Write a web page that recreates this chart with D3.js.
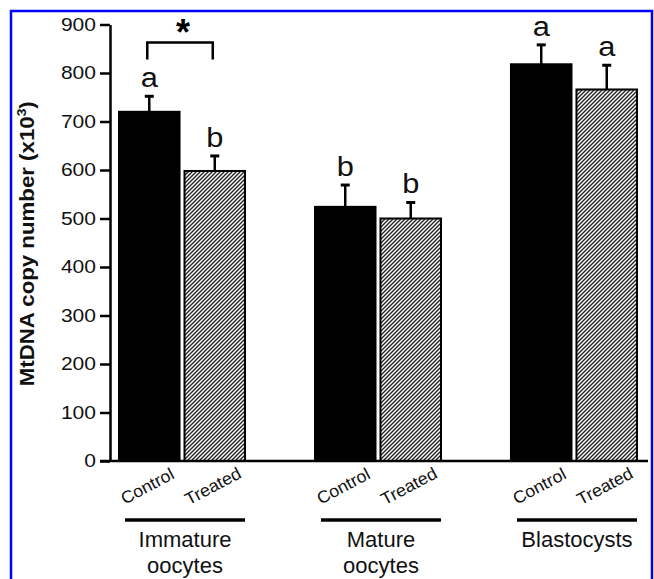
<!DOCTYPE html>
<html>
<head>
    <meta charset="utf-8">
    <title>MtDNA copy number</title>
    <script src="https://d3js.org/d3.v7.min.js"></script>
    <style>
        body { margin: 0; background: #fff; }
        text { font-family: "Liberation Sans", Arial, sans-serif; }
    </style>
</head>
<body>
<div id="chart"></div>
<script>

    // dados
    const groups = ["Immature oocytes", "Mature oocytes", "Blastocysts"];
    const groupLines = [["Immature", "oocytes"], ["Mature", "oocytes"], ["Blastocysts"]];
    const treatments = ["Control", "Treated"];
    const controlMean = [720, 524, 818];
    const controlSem = [32, 45, 40];
    const treatedMean = [598, 500, 766];
    const treatedSem = [31, 33, 50];
    const controlLetters = ["a", "b", "a"];
    const treatedLetters = ["b", "b", "a"];
    const yTicks = [0, 100, 200, 300, 400, 500, 600, 700, 800, 900];
    // colchete de significancia (grupo Immature), em unidades do eixo y
    const sigGroup = "Immature oocytes";
    const sigTop = 863, sigLeg = 828;

    let dataset = [];
    groups.forEach(function(g, i) {
        dataset.push({group: g, t: "Control", mean: controlMean[i], sem: controlSem[i], letter: controlLetters[i]});
        dataset.push({group: g, t: "Treated", mean: treatedMean[i], sem: treatedSem[i], letter: treatedLetters[i]});
    });

    let width = 654, height = 579;

    let svg = d3.select("#chart")
        .append("svg")
            .attr("width", width)
            .attr("height", height);

    // moldura azul
    svg.append("rect")
        .attr("x", 11).attr("y", 11)
        .attr("width", 641).attr("height", 620)
        .attr("fill", "none")
        .attr("stroke", "#0000ff")
        .attr("stroke-width", 2.5);

    // hachura
    let defs = svg.append("defs");
    defs.append("pattern")
        .attr("id", "hatch")
        .attr("patternUnits", "userSpaceOnUse")
        .attr("width", 4).attr("height", 4)
      .append("path")
        .attr("d", "M-1,1 l2,-2 M0,4 l4,-4 M3,5 l2,-2")
        .attr("stroke", "#222")
        .attr("stroke-width", 1.4);

    let yScale = d3.scaleLinear()
        .domain([0, 900])
        .range([461, 24.5]);

    let xScale = d3.scaleBand()
        .domain(groups)
        .range([110, 646])
        .paddingInner(0.357)
        .paddingOuter(0.046);

    let xInner = d3.scaleBand()
        .domain(treatments)
        .range([0, xScale.bandwidth()])
        .paddingInner(0.076);

    function barX(d) { return xScale(d.group) + xInner(d.t); }
    function barC(d) { return barX(d) + xInner.bandwidth() / 2; }

    // barras
    svg.selectAll("rect.bar")
        .data(dataset)
        .enter()
        .append("rect")
        .attr("class", "bar")
        .attr("x", barX)
        .attr("y", function(d) { return yScale(d.mean); })
        .attr("width", xInner.bandwidth())
        .attr("height", function(d) { return yScale(0) - yScale(d.mean); })
        .attr("fill", function(d) { return d.t === "Control" ? "#000" : "url(#hatch)"; })
        .attr("stroke", "#000")
        .attr("stroke-width", 2);

    // barras de erro
    svg.selectAll("line.err")
        .data(dataset)
        .enter()
        .append("line")
        .attr("x1", barC).attr("x2", barC)
        .attr("y1", function(d) { return yScale(d.mean); })
        .attr("y2", function(d) { return yScale(d.mean + d.sem); })
        .attr("stroke", "#000")
        .attr("stroke-width", 2.5);
    svg.selectAll("line.cap")
        .data(dataset)
        .enter()
        .append("line")
        .attr("x1", function(d) { return barC(d) - 4.5; })
        .attr("x2", function(d) { return barC(d) + 4.5; })
        .attr("y1", function(d) { return yScale(d.mean + d.sem); })
        .attr("y2", function(d) { return yScale(d.mean + d.sem); })
        .attr("stroke", "#000")
        .attr("stroke-width", 3);

    // letras
    svg.selectAll("text.letter")
        .data(dataset)
        .enter()
        .append("text")
        .attr("transform", function(d) {
            return "translate(" + barC(d) + "," + (yScale(d.mean + d.sem) - 9) + ") scale(1.1,1)";
        })
        .attr("text-anchor", "middle")
        .attr("font-size", "28px")
        .attr("fill", "#111")
        .text(function(d) { return d.letter; });

    // colchete *
    let sc = dataset.filter(function(d) { return d.group === sigGroup; });
    let bx1 = barC(sc[0]) - 2, bx2 = barC(sc[1]) - 2;
    svg.append("path")
        .attr("d", "M" + bx1 + "," + yScale(sigLeg) + "V" + yScale(sigTop) + "H" + bx2 + "V" + yScale(sigLeg))
        .attr("fill", "none")
        .attr("stroke", "#000")
        .attr("stroke-width", 2.5);
    svg.append("text")
        .attr("x", (bx1 + bx2) / 2 + 3)
        .attr("y", yScale(sigTop) + 3)
        .attr("text-anchor", "middle")
        .attr("font-size", "36px")
        .attr("font-weight", "bold")
        .text("*");

    // eixo y
    let yAxis = d3.axisLeft()
        .scale(yScale)
        .tickValues(yTicks)
        .tickSize(10)
        .tickSizeOuter(0)
        .tickPadding(4);

    let gy = svg.append("g")
        .attr("transform", "translate(110,0)")
        .call(yAxis);
    gy.select(".domain").attr("stroke-width", 2.5);
    gy.selectAll(".tick line").attr("stroke-width", 2.5);
    gy.selectAll(".tick text")
        .attr("font-size", "18px")
        .attr("font-family", "'Liberation Sans', Arial, sans-serif")
        .attr("fill", "#111")
        .attr("x", -14 / 1.17)
        .attr("transform", "scale(1.17,1)");

    // eixo x
    svg.append("line")
        .attr("x1", 100).attr("x2", 648)
        .attr("y1", yScale(0)).attr("y2", yScale(0))
        .attr("stroke", "#000")
        .attr("stroke-width", 2.5);

    // rotulos Control / Treated
    svg.selectAll("text.treat")
        .data(dataset)
        .enter()
        .append("text")
        .attr("transform", function(d) {
            return "translate(" + (barC(d) - 2) + "," + (yScale(0) + 25) + ") rotate(-28) scale(1.05,1)";
        })
        .attr("text-anchor", "middle")
        .attr("dy", "0.35em")
        .attr("font-size", "17px")
        .attr("fill", "#111")
        .text(function(d) { return d.t; });

    // linhas e nomes dos grupos
    svg.selectAll("line.grp")
        .data(groups)
        .enter()
        .append("line")
        .attr("x1", function(g) { return xScale(g) + 6; })
        .attr("x2", function(g) { return xScale(g) + xScale.bandwidth(); })
        .attr("y1", 520).attr("y2", 520)
        .attr("stroke", "#000")
        .attr("stroke-width", 3.5);

    groups.forEach(function(g, i) {
        let t = svg.append("text")
            .attr("x", xScale(g) + 3 + xScale.bandwidth() / 2)
            .attr("y", 547)
            .attr("text-anchor", "middle")
            .attr("font-size", "22px")
            .attr("fill", "#111");
        groupLines[i].forEach(function(s, k) {
            t.append("tspan")
                .attr("x", xScale(g) + 3 + xScale.bandwidth() / 2)
                .attr("dy", k === 0 ? 0 : 26)
                .text(s);
        });
    });

    // titulo do eixo y
    let yl = svg.append("text")
        .attr("transform", "translate(33.5," + ((yScale(0) + yScale(900)) / 2 + 1) + ") rotate(-90) scale(1.06,1)")
        .attr("text-anchor", "middle")
        .attr("font-size", "21px")
        .attr("font-weight", "bold")
        .attr("fill", "#111");
    yl.append("tspan").text("MtDNA copy number (x10");
    yl.append("tspan").attr("font-size", "13px").attr("dy", "-8").text("3");
    yl.append("tspan").attr("dy", "8").text(")");

</script>
</body>
</html>
